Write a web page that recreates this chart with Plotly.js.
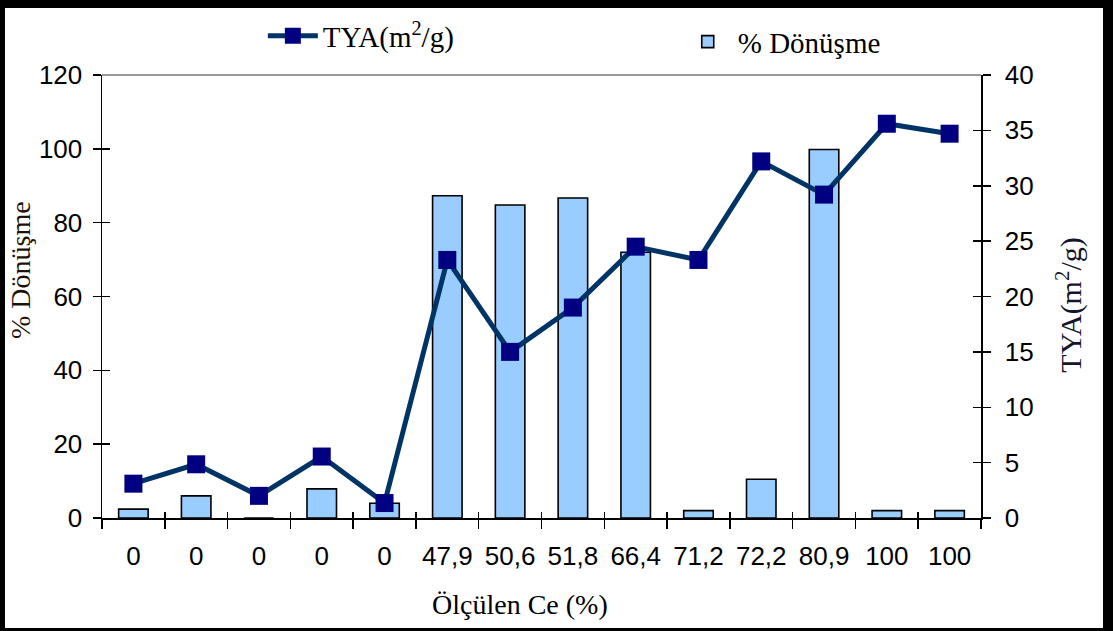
<!DOCTYPE html>
<html>
<head>
<meta charset="utf-8">
<script src="https://cdn.plot.ly/plotly-3.0.1.min.js"></script>
<style>
  html, body { margin: 0; padding: 0; background: #fff; }
  #wrap { position: relative; width: 1113px; height: 631px; }
  #chart { position: absolute; left: 0; top: 0; width: 1113px; height: 631px; }
  #frame { position: absolute; left: 0; top: 0; width: 1113px; height: 631px; box-sizing: border-box;
           border-top: 8px solid #000; border-left: 5px solid #000; border-right: 10px solid #000; border-bottom: 3px solid #000;
           pointer-events: none; }
</style>
</head>
<body>
<div id="wrap"><div id="chart"></div><div id="frame"></div></div>
<script>
const categories = ["0", "0", "0", "0", "0", "47,9", "50,6", "51,8", "66,4", "71,2", "72,2", "80,9", "100", "100"];
const donusme = [2.4, 6.0, 0, 7.9, 4.0, 87.3, 84.8, 86.7, 72.0, 2.0, 10.5, 99.8, 2.0, 2.0];
const tya = [3.1, 4.85, 2.0, 5.55, 1.35, 23.3, 15.0, 19.0, 24.5, 23.3, 32.2, 29.2, 35.6, 34.7];
const leftTicks = [0, 20, 40, 60, 80, 100, 120];
const rightTicks = [0, 5, 10, 15, 20, 25, 30, 35, 40];
const xTitle = "Ölçülen Ce (%)";
const leftTitle = "% Dönüşme";
const rightTitle = "TYA(m<sup>2</sup>/g)";

const idx = categories.map((_, i) => i);
const bounds = [];
for (let i = 0; i <= categories.length; i++) bounds.push(i - 0.5);

const tickFont = { family: "Liberation Sans, Arial, sans-serif", size: 26, color: "#000" };
const serif = "Liberation Serif, Times New Roman, serif";

const traces = [
  {
    type: "scatter", mode: "lines+markers", name: rightTitle, legend: "legend",
    x: idx, y: tya, xaxis: "x", yaxis: "y2",
    line: { color: "#003366", width: 5 },
    marker: { symbol: "square", size: 18, color: "#000080", line: { width: 0 } }
  },
  {
    type: "bar", name: leftTitle, legend: "legend2",
    x: idx, y: donusme, xaxis: "x", yaxis: "y",
    width: 0.47,
    marker: { color: "#99CCFF", line: { color: "#000", width: 1.6 } }
  },
  { type: "scatter", x: [null], y: [null], xaxis: "x2", yaxis: "y", showlegend: false, hoverinfo: "skip" },
  { type: "scatter", x: [null], y: [null], xaxis: "x3", yaxis: "y", showlegend: false, hoverinfo: "skip" },
  { type: "scatter", x: [null], y: [null], xaxis: "x", yaxis: "y3", showlegend: false, hoverinfo: "skip" },
  { type: "scatter", x: [null], y: [null], xaxis: "x", yaxis: "y4", showlegend: false, hoverinfo: "skip" }
];

const xrange = [-0.5, categories.length - 0.5];
const legendFont = { family: serif, size: 29, color: "#000" };

const layout = {
  width: 1113, height: 631,
  paper_bgcolor: "#fff", plot_bgcolor: "#fff",
  margin: { l: 102, r: 132, t: 75, b: 113, autoexpand: false },
  showlegend: true,
  legend: {
    orientation: "h", x: 0.183, xanchor: "left", y: 1.088, yanchor: "middle",
    font: legendFont, bgcolor: "rgba(0,0,0,0)", itemwidth: 50
  },
  legend2: {
    orientation: "h", x: 0.655, xanchor: "left", y: 1.075, yanchor: "middle",
    font: legendFont, bgcolor: "rgba(0,0,0,0)", itemwidth: 50
  },
  bargap: 0,
  xaxis: {
    range: xrange, tickmode: "array", tickvals: idx, ticktext: categories,
    ticks: "", showgrid: false, zeroline: false,
    showline: true, linecolor: "#000", linewidth: 1.5,
    tickfont: tickFont, ticklabelstandoff: 14
  },
  xaxis2: {
    overlaying: "x", anchor: "y", side: "bottom", range: xrange,
    tickmode: "array", tickvals: bounds, showticklabels: false,
    ticks: "outside", ticklen: 10, tickwidth: 1.5, tickcolor: "#000",
    showgrid: false, zeroline: false, showline: false
  },
  xaxis3: {
    overlaying: "x", anchor: "y", side: "bottom", range: xrange,
    tickmode: "array", tickvals: bounds, showticklabels: false,
    ticks: "inside", ticklen: 6, tickwidth: 1.5, tickcolor: "#000",
    showgrid: false, zeroline: false, showline: false
  },
  yaxis: {
    range: [0, 120], tickvals: leftTicks,
    ticks: "outside", ticklen: 8, tickwidth: 1.5, tickcolor: "#000",
    showgrid: false, zeroline: false, showline: true, linecolor: "#000", linewidth: 1.5,
    tickfont: tickFont, ticklabelstandoff: 5
  },
  yaxis3: {
    overlaying: "y", anchor: "x", side: "left", range: [0, 120], tickvals: leftTicks,
    ticks: "inside", ticklen: 8, tickwidth: 1.5, tickcolor: "#000", showticklabels: false,
    showgrid: false, zeroline: false, showline: false
  },
  yaxis2: {
    overlaying: "y", anchor: "x", side: "right", range: [0, 40], tickvals: rightTicks,
    ticks: "outside", ticklen: 8, tickwidth: 1.5, tickcolor: "#000",
    showgrid: false, zeroline: false, showline: true, linecolor: "#000", linewidth: 1.5,
    tickfont: tickFont, ticklabelstandoff: 9
  },
  yaxis4: {
    overlaying: "y", anchor: "x", side: "right", range: [0, 40], tickvals: rightTicks,
    ticks: "inside", ticklen: 8, tickwidth: 1.5, tickcolor: "#000", showticklabels: false,
    showgrid: false, zeroline: false, showline: false
  },
  annotations: [
    { text: xTitle, xref: "paper", yref: "paper", x: 0.4755, y: -0.196, xanchor: "center", yanchor: "middle",
      showarrow: false, font: { family: serif, size: 28, color: "#000" } },
    { text: leftTitle, xref: "paper", yref: "paper", x: -0.092, y: 0.56, xanchor: "center", yanchor: "middle",
      textangle: -90, showarrow: false, font: { family: serif, size: 28, color: "#1e1208" } },
    { text: rightTitle, xref: "paper", yref: "paper", x: 1.101, y: 0.481, xanchor: "center", yanchor: "middle",
      textangle: -90, showarrow: false, font: { family: serif, size: 30, color: "#14142a" } }
  ],
  shapes: [
    { type: "line", xref: "paper", yref: "paper", x0: 0, x1: 1, y0: 1, y1: 1, line: { color: "#999", width: 2 } }
  ]
};

Plotly.newPlot("chart", traces, layout, { displayModeBar: false, staticPlot: true });
</script>
</body>
</html>
